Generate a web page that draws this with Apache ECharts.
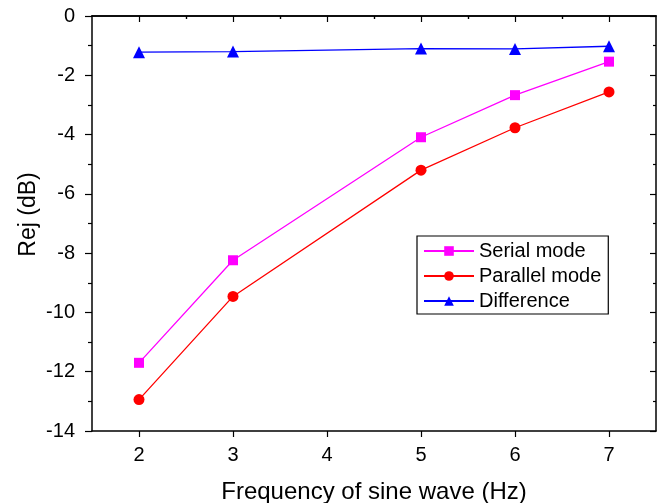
<!DOCTYPE html>
<html>
<head>
<meta charset="utf-8">
<script src="https://cdn.jsdelivr.net/npm/echarts@6/dist/echarts.min.js"></script>
<style>
  html, body { margin: 0; padding: 0; background: #fff; }
  #main { width: 664px; height: 503px; }
</style>
</head>
<body>
<div id="main"></div>
<script>
// data
var freq = [2, 3, 5, 6, 7];
var serial = [-11.7, -8.24, -4.09, -2.67, -1.54];
var parallel = [-12.94, -9.46, -5.2, -3.77, -2.56];
var diff = [-1.22, -1.2, -1.1, -1.11, -1.02];

var majorX = [2, 3, 4, 5, 6, 7];
var minorX = [2.5, 3.5, 4.5, 5.5, 6.5];

function pairs(ys) {
  var out = [];
  for (var i = 0; i < freq.length; i++) out.push([freq[i], ys[i]]);
  return out;
}

var font = 'Liberation Sans, Arial, sans-serif';
var axisLineStyle = { color: '#000', width: 1.5 };

// extra x axis that only draws ticks (minor ones, and the mirrored top ones)
function tickAxis(pos, vals, len, inside) {
  return {
    type: 'value', position: pos, min: 1.5, max: 7.5,
    axisLine: { show: pos === 'top', lineStyle: axisLineStyle },
    axisTick: { show: true, inside: inside, length: len, customValues: vals, lineStyle: { color: '#000', width: 1.2 } },
    axisLabel: { show: false },
    splitLine: { show: false }
  };
}

var option = {
  animation: false,
  backgroundColor: '#fff',
  grid: { left: 92, right: 8, top: 16, bottom: 72, outerBoundsMode: 'none' },
  xAxis: [
    {
      type: 'value', position: 'bottom', min: 1.5, max: 7.5,
      name: 'Frequency of sine wave (Hz)', nameLocation: 'middle', nameGap: 49,
      nameMoveOverlap: false,
      nameTextStyle: { fontFamily: font, fontSize: 24, color: '#000' },
      axisLine: { show: true, onZero: false, lineStyle: axisLineStyle },
      axisTick: { show: true, length: 6, customValues: majorX, lineStyle: { color: '#000', width: 1.2 } },
      axisLabel: { customValues: majorX, fontFamily: font, fontSize: 20, color: '#000', margin: 14 },
      splitLine: { show: false }
    },
    tickAxis('bottom', minorX, 3, false),
    tickAxis('top', majorX, 6, true),
    tickAxis('top', minorX, 3, true)
  ],
  yAxis: [
    {
      type: 'value', position: 'left', min: -14, max: 0, interval: 2,
      name: 'Rej (dB)', nameLocation: 'middle', nameGap: 52,
      nameMoveOverlap: false,
      nameTextStyle: { fontFamily: font, fontSize: 23, color: '#000', padding: [0, 0, 0, 18] },
      axisLine: { show: true, onZero: false, lineStyle: axisLineStyle },
      axisTick: { show: true, length: 7, lineStyle: { color: '#000', width: 1.2 } },
      minorTick: { show: true, splitNumber: 2, length: 4, lineStyle: { color: '#000', width: 1.2 } },
      axisLabel: { fontFamily: font, fontSize: 20, color: '#000', margin: 17 },
      splitLine: { show: false },
      minorSplitLine: { show: false }
    },
    {
      type: 'value', position: 'right', min: -14, max: 0, interval: 2,
      axisLine: { show: true, onZero: false, lineStyle: axisLineStyle },
      axisTick: { show: true, inside: true, length: 6, lineStyle: { color: '#000', width: 1.2 } },
      minorTick: { show: true, splitNumber: 2, length: 3, lineStyle: { color: '#000', width: 1.2 } },
      axisLabel: { show: false },
      splitLine: { show: false }
    }
  ],
  legend: {
    orient: 'vertical',
    left: 417, top: 236,
    padding: [5, 7, 3, 6],
    itemGap: 5,
    itemWidth: 50, itemHeight: 12,
    borderColor: '#000', borderWidth: 1.2,
    textStyle: { fontFamily: font, fontSize: 20, color: '#000' },
    data: ['Serial mode', 'Parallel mode', 'Difference']
  },
  series: [
    {
      name: 'Serial mode', type: 'line', data: pairs(serial),
      symbol: 'rect', symbolSize: 10,
      itemStyle: { color: '#ff00ff' }, lineStyle: { color: '#ff00ff', width: 1.3 }
    },
    {
      name: 'Parallel mode', type: 'line', data: pairs(parallel),
      symbol: 'circle', symbolSize: 11,
      itemStyle: { color: '#ff0000' }, lineStyle: { color: '#ff0000', width: 1.3 }
    },
    {
      name: 'Difference', type: 'line', data: pairs(diff),
      symbol: 'triangle', symbolSize: 12,
      itemStyle: { color: '#0000ff' }, lineStyle: { color: '#0000ff', width: 1.3 }
    }
  ]
};

var myChart = echarts.init(document.getElementById('main'));
myChart.setOption(option);
</script>
</body>
</html>
